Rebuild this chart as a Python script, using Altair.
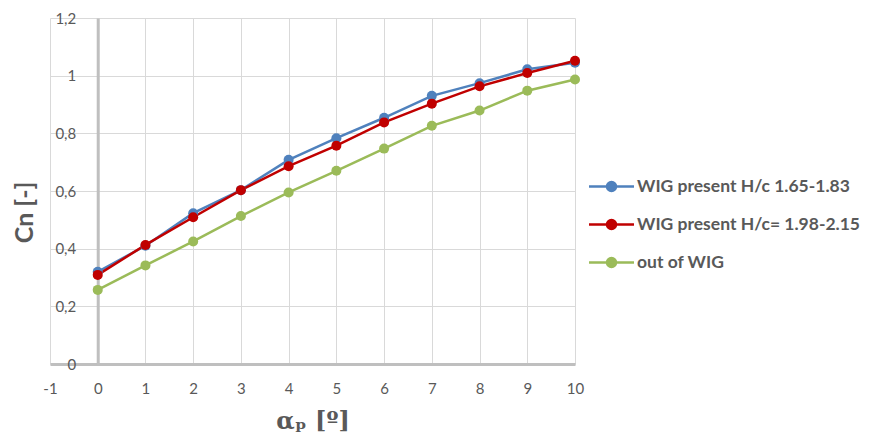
import altair as alt
import pandas as pd

alpha = list(range(0, 11))
cn_wig_165 = [0.32, 0.41, 0.523, 0.603, 0.708, 0.783, 0.854, 0.93, 0.974, 1.022, 1.045]
cn_wig_198 = [0.309, 0.413, 0.509, 0.603, 0.686, 0.757, 0.838, 0.903, 0.963, 1.009, 1.052]
cn_out = [0.257, 0.342, 0.425, 0.513, 0.595, 0.67, 0.747, 0.826, 0.879, 0.948, 0.987]
series = ["WIG present H/c 1.65-1.83", "WIG present H/c= 1.98-2.15", "out of WIG"]
colors = ["#4F81BD", "#C00000", "#9BBB59"]
x_ticks = list(range(-1, 11))
y_ticks = [0, 0.2, 0.4, 0.6, 0.8, 1.0, 1.2]

rows = []
for name, vals in zip(series, [cn_wig_165, cn_wig_198, cn_out]):
    for a, v in zip(alpha, vals):
        rows.append({"alpha": a, "cn": v, "series": name})
df = pd.DataFrame(rows)

W, H = 525, 346
TEXT = "#595959"

x_enc = alt.X("alpha:Q", scale=alt.Scale(domain=[-1, 10], nice=False, zero=False),
              axis=alt.Axis(values=x_ticks, title="αₚ [º]", labelFlush=False,
                            labelExpr="toString(datum.value)",
                            ticks=False, labelPadding=17, titlePadding=13,
                            titleFont="DejaVu Serif", titleFontSize=24, titleFontWeight="bold",
                            titleColor=TEXT, domainColor="#BFBFBF", domainWidth=3,
                            gridColor="#D9D9D9", gridWidth=1))
y_enc = alt.Y("cn:Q", scale=alt.Scale(domain=[0, 1.2], nice=False),
              axis=alt.Axis(values=y_ticks, title="Cn [-]", labelFlush=False,
                            labelExpr="replace(format(datum.value, '.2~f'), '.', ',')",
                            ticks=False, labelPadding=22, offset=-W / 11,
                            titleX=-73, titleY=194, titleAngle=-90, titleAlign="center",
                            titleBaseline="middle",
                            titleFontSize=25, titleFontWeight="bold", titleColor=TEXT,
                            domainColor="#BFBFBF", domainWidth=3,
                            gridColor="#D9D9D9", gridWidth=1))

scale = alt.Scale(domain=series, range=colors)
sym = "M-2,0L2,0M0.4,0A0.4,0.4,0,1,1,-0.4,0A0.4,0.4,0,1,1,0.4,0Z"
leg = alt.Legend(title=None, orient="none", legendX=549, legendY=156,
                 symbolType=sym, symbolSize=506, symbolStrokeWidth=2.5,
                 labelOffset=13, rowPadding=16, labelLimit=400, padding=0,
                 labelFontSize=17.5, labelFontWeight="bold", labelColor=TEXT)

lines = alt.Chart(df).mark_line(strokeWidth=2.5).encode(
    x=x_enc, y=y_enc,
    color=alt.Color("series:N", scale=scale, sort=series, legend=leg),
)
points = alt.Chart(df).mark_point(filled=True, size=100, opacity=1).encode(
    x=x_enc, y=y_enc,
    color=alt.Color("series:N", scale=scale, sort=series, legend=leg),
)

chart = alt.layer(lines, points).properties(
    width=W, height=H,
    autosize=alt.AutoSizeParams(type="none"),
    padding={"left": 42, "top": 10, "right": 287, "bottom": 75},
).configure_view(stroke=None).configure_axis(
    labelFont="Lato", labelFontSize=15, labelColor=TEXT, titleFont="Lato",
).configure_legend(labelFont="Lato")

chart.save("out.html", embed_options={"renderer": "svg", "actions": False})
